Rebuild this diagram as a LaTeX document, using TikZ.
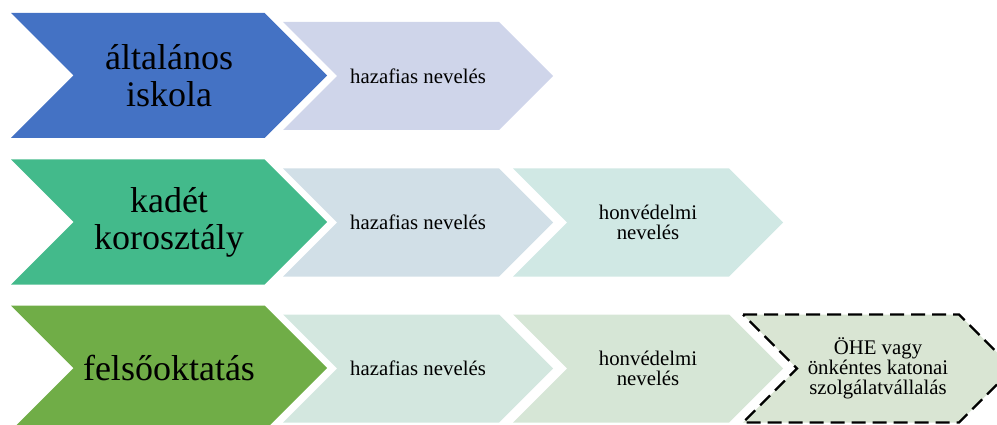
\documentclass[tikz,border=0pt]{standalone}
\usepackage{fontspec}
\setmainfont{Liberation Serif}
\usepackage{tikz}
\usetikzlibrary{positioning}

\definecolor{blueA}{HTML}{4472C4}
\definecolor{blueB}{HTML}{CFD5EA}
\definecolor{tealA}{HTML}{43BA8B}
\definecolor{tealB}{HTML}{D1DFE7}
\definecolor{tealC}{HTML}{D0E8E4}
\definecolor{greenA}{HTML}{70AD47}
\definecolor{greenB}{HTML}{D3E7DF}
\definecolor{greenC}{HTML}{D6E6D6}
\definecolor{greenD}{HTML}{D9E5D3}

% #1 name, #2 left x, #3 centre y, #4 width, #5 height, #6 fill style, #7 text style, #8 text
\newcommand{\chev}[8]{%
  \path[#6] (#2,#3-#5/2) -- ++(#4-#5/2,0) -- ++(#5/2,#5/2) -- ++(-#5/2,#5/2)
    -- ++(-#4+#5/2,0) -- ++(#5/2,-#5/2) -- cycle;
  \node[#7] (#1) at (#2+#4/2,#3) {#8};
}

\tikzset{
  small/.style={align=center, inner sep=0pt, font=\fontsize{20.8}{20}\selectfont},
  big/.style={align=center, inner sep=0pt, font=\fontsize{36}{37}\selectfont}
}

\begin{document}
\begin{tikzpicture}[x=1pt, y=-1pt]
  \useasboundingbox (0,0) rectangle (997,425);
  \clip (0,0) rectangle (997,425);

  % altalanos iskola
  \chev{m-1-1}{11}{75.5}{316}{125}{fill=blueA}{big}{általános\\iskola}
  \chev{m-1-2}{283}{76}{270}{108}{fill=blueB}{small}{hazafias nevelés}

  % kadet korosztaly
  \chev{m-2-1}{11}{222}{316}{125}{fill=tealA}{big}{kadét\\korosztály}
  \chev{m-2-2}{283}{222.5}{270}{108}{fill=tealB}{small}{hazafias nevelés}
  \chev{m-2-3}{513}{222.5}{270}{108}{fill=tealC}{small}{honvédelmi\\nevelés}

  % felsooktatas
  \chev{m-3-1}{11}{368}{316}{125}{fill=greenA}{big}{felsőoktatás}
  \chev{m-3-2}{283}{368.5}{270}{108}{fill=greenB}{small}{hazafias nevelés}
  \chev{m-3-3}{513}{368.5}{270}{108}{fill=greenC}{small}{honvédelmi\\nevelés}
  \chev{m-3-4}{743}{368.5}{270}{108}{fill=greenD, draw=black, line width=2.2pt,
    dash pattern=on 14pt off 7pt}{small}{ÖHE vagy\\önkéntes katonai\\szolgálatvállalás}
\end{tikzpicture}
\end{document}
